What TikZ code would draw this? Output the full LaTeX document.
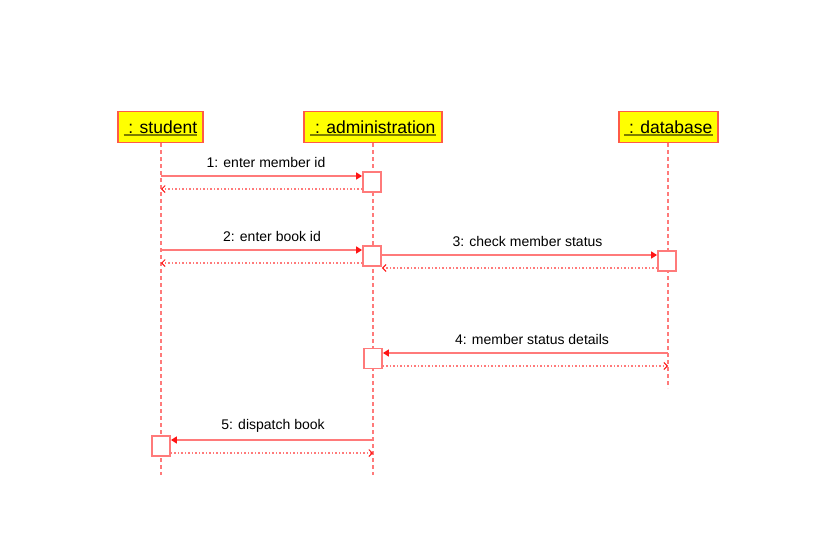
\documentclass[tikz,border=0pt]{standalone}
\usepackage{fontspec}
\setmainfont{Liberation Sans}
\usetikzlibrary{arrows.meta}
\definecolor{lnc}{RGB}{255,122,122}
\definecolor{hbd}{RGB}{255,90,70}
\definecolor{hfill}{RGB}{255,255,0}
\definecolor{ulc}{RGB}{125,125,0}
\definecolor{tipc}{RGB}{255,20,20}
\tikzset{
  hdr/.style={draw=hbd, fill=hfill, line width=1.8pt, minimum height=31pt, inner sep=0pt},
  hdrtext/.style={inner sep=0pt, font=\fontsize{17.5}{20}\selectfont},
  ul/.style={draw=ulc, line width=1.8pt},
  life/.style={draw=lnc, line width=1.8pt, dash pattern=on 4pt off 3pt},
  act/.style={draw=lnc, fill=white, line width=1.8pt, minimum width=18pt, minimum height=20pt, inner sep=0pt},
  msg/.style={draw=lnc, line width=1.8pt, -{Triangle[length=6pt,width=7pt,color=tipc]}},
  ret/.style={draw=lnc, line width=1.4pt, dash pattern=on 1.5pt off 2pt, -{Straight Barb[length=3.5pt,width=7pt,color=tipc,line width=1pt]}},
  lbl/.style={inner sep=0pt, font=\fontsize{14}{16}\selectfont}
}
\begin{document}
\begin{tikzpicture}[x=1pt,y=-1pt]
\useasboundingbox (0,0) rectangle (832,538);
% lifelines
\coordinate (sEnd) at (161,475);
\coordinate (aEnd) at (373,475);
\coordinate (dEnd) at (668,388);
\coordinate (sTop) at (161,143);
\coordinate (aTop) at (373,143);
\coordinate (dTop) at (668,143);
\draw[life] (sTop) -- (sEnd);
\draw[life] (aTop) -- (aEnd);
\draw[life] (dTop) -- (dEnd);
% headers
\node[hdr, minimum width=85pt] (stu) at (160.5,127) {};
\node[hdrtext] (stut) at (stu.center) {\hspace{4.5pt}: student};
\draw[ul] ([yshift=-2pt]stut.base west) -- ([yshift=-2pt]stut.base east);
\node[hdr, minimum width=138pt] (adm) at (373,127) {};
\node[hdrtext] (admt) at (adm.center) {\hspace{4.5pt}: administration};
\draw[ul] ([yshift=-2pt]admt.base west) -- ([yshift=-2pt]admt.base east);
\node[hdr, minimum width=99pt] (dbs) at (668.5,127) {};
\node[hdrtext] (dbst) at (dbs.center) {\hspace{4.5pt}: database};
\draw[ul] ([yshift=-2pt]dbst.base west) -- ([yshift=-2pt]dbst.base east);
% activation boxes
\node[act] (b1) at (372,182) {};
\node[act] (b2) at (372,256) {};
\node[act] (b3) at (667,261) {};
\node[act] (b4) at (373,358.5) {};
\node[act] (b5) at (161,446) {};
% message 1
\coordinate (m1s) at (161,176);
\coordinate (r1e) at (161,189);
\draw[msg] (m1s) -- (m1s -| b1.west);
\draw[ret] (r1e -| b1.west) -- (r1e);
\node[lbl] (l1) at (266,162) {1: enter member id};
% message 2
\coordinate (m2s) at (161,250);
\coordinate (r2e) at (161,263);
\draw[msg] (m2s) -- (m2s -| b2.west);
\draw[ret] (r2e -| b2.west) -- (r2e);
\node[lbl] (l2) at (272,236) {2: enter book id};
% message 3
\coordinate (m3y) at (500,255);
\coordinate (r3y) at (500,268);
\draw[msg] (m3y -| b2.east) -- (m3y -| b3.west);
\draw[ret] (r3y -| b3.west) -- (r3y -| b2.east);
\node[lbl] (l3) at (527.5,241) {3: check member status};
% message 4
\coordinate (m4s) at (668,353);
\coordinate (r4e) at (668,366);
\draw[msg] (m4s) -- (m4s -| b4.east);
\draw[ret] (r4e -| b4.east) -- (r4e);
\node[lbl] (l4) at (532,339) {4: member status details};
% message 5
\coordinate (m5s) at (373,440);
\coordinate (r5e) at (373,453);
\draw[msg] (m5s) -- (m5s -| b5.east);
\draw[ret] (r5e -| b5.east) -- (r5e);
\node[lbl] (l5) at (273,426) {5: dispatch book};
\end{tikzpicture}
\end{document}
